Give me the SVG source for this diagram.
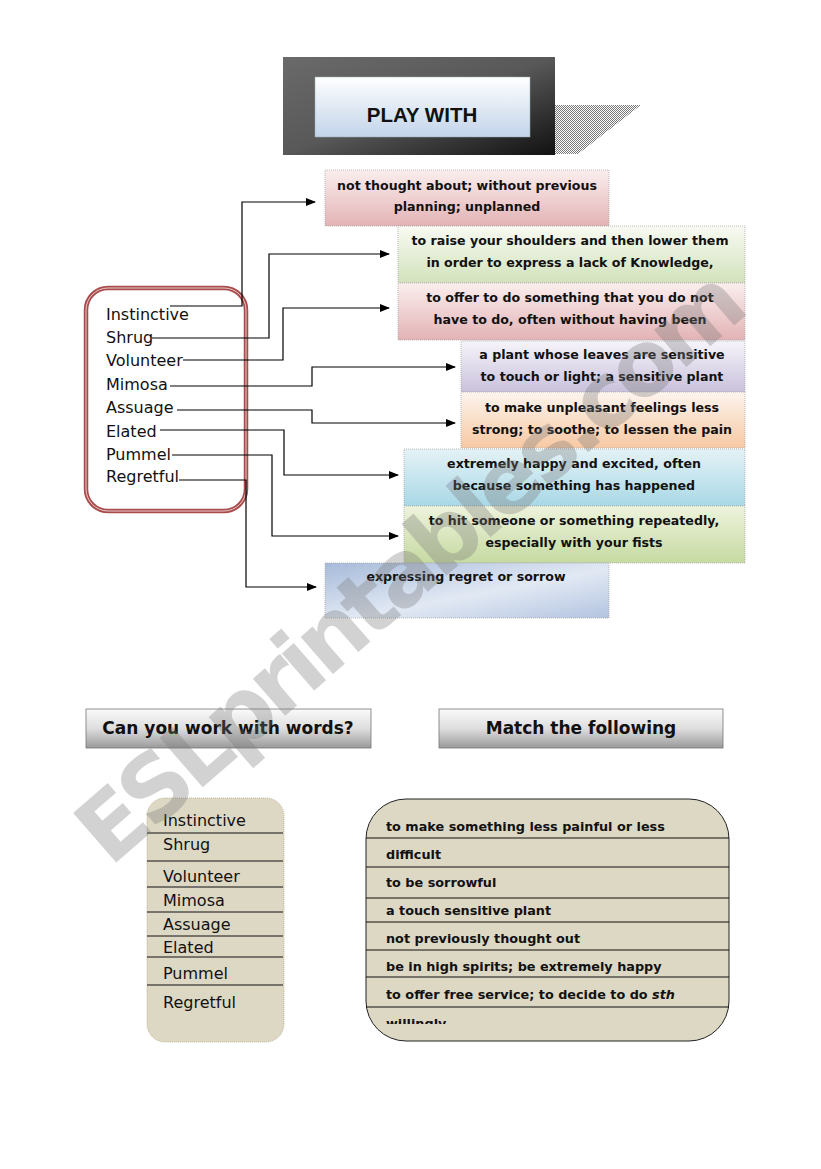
<svg xmlns="http://www.w3.org/2000/svg" width="821" height="1169" viewBox="0 0 821 1169">
<defs>
<style>
.w{font-family:"DejaVu Sans","Liberation Sans",sans-serif;font-size:16px;fill:#111}
.d{font-family:"DejaVu Sans","Liberation Sans",sans-serif;font-size:12.6px;font-weight:bold;fill:#111;text-anchor:middle}
.h{font-family:"DejaVu Sans","Liberation Sans",sans-serif;font-size:17px;font-weight:bold;fill:#111;text-anchor:middle}
.m{font-family:"DejaVu Sans","Liberation Sans",sans-serif;font-size:12.8px;font-weight:bold;fill:#111}
.c{fill:none;stroke:#000;stroke-width:1.2}
.bx{stroke:#aaa;stroke-width:0.8;stroke-dasharray:1 1}
.sep{stroke:#111;stroke-width:1}
</style>
<marker id="ah" markerWidth="10" markerHeight="8" refX="9" refY="4" orient="auto" markerUnits="userSpaceOnUse">
<path d="M0,0 L10,4 L0,8 z" fill="#000"/>
</marker>
<pattern id="hatch" width="2" height="2" patternUnits="userSpaceOnUse">
<rect width="2" height="2" fill="#fff"/>
<rect width="1" height="1" fill="#777"/>
<rect x="1" y="1" width="1" height="1" fill="#777"/>
</pattern>
<linearGradient id="gTitle" x1="0" y1="0" x2="1" y2="1">
<stop offset="0" stop-color="#6a6a6a"/>
<stop offset="0.5" stop-color="#585858"/>
<stop offset="1" stop-color="#111"/>
</linearGradient>
<linearGradient id="gInner" x1="0" y1="0" x2="0" y2="1">
<stop offset="0" stop-color="#ffffff"/>
<stop offset="1" stop-color="#c2d4ea"/>
</linearGradient>
<linearGradient id="gPink" x1="0" y1="0" x2="0" y2="1">
<stop offset="0" stop-color="#fbeeee"/>
<stop offset="1" stop-color="#e3b3b5"/>
</linearGradient>
<linearGradient id="gGreen" x1="0" y1="0" x2="0" y2="1">
<stop offset="0" stop-color="#f8faf2"/>
<stop offset="1" stop-color="#d2e2bc"/>
</linearGradient>
<linearGradient id="gPurple" x1="0" y1="0" x2="0" y2="1">
<stop offset="0" stop-color="#f6f4fa"/>
<stop offset="1" stop-color="#c9c1dc"/>
</linearGradient>
<linearGradient id="gPeach" x1="0" y1="0" x2="0" y2="1">
<stop offset="0" stop-color="#fdf4ee"/>
<stop offset="1" stop-color="#f7c9a3"/>
</linearGradient>
<linearGradient id="gBlue" x1="0" y1="0" x2="0" y2="1">
<stop offset="0" stop-color="#e4f2f6"/>
<stop offset="1" stop-color="#a9d8e6"/>
</linearGradient>
<linearGradient id="gGreen2" x1="0" y1="0" x2="0" y2="1">
<stop offset="0" stop-color="#eef3dc"/>
<stop offset="1" stop-color="#c6daa2"/>
</linearGradient>
<linearGradient id="gSteel" x1="0" y1="0" x2="1" y2="1">
<stop offset="0" stop-color="#a6bad9"/>
<stop offset="0.55" stop-color="#e2e9f4"/>
<stop offset="1" stop-color="#b3c4e0"/>
</linearGradient>
<linearGradient id="gHead" x1="0" y1="0" x2="0" y2="1">
<stop offset="0" stop-color="#fafafa"/>
<stop offset="0.5" stop-color="#dedede"/>
<stop offset="1" stop-color="#9a9a9a"/>
</linearGradient>
<clipPath id="clipR"><rect x="366" y="799" width="364" height="225"/></clipPath>
</defs>

<g id="title">
<polygon points="555,105 641,105 578,154 555,154" fill="url(#hatch)"/>
<rect x="283" y="57" width="272" height="98" fill="url(#gTitle)"/>
<rect x="315" y="77" width="215" height="60" fill="url(#gInner)" stroke="#9aa" stroke-width="0.5"/>
<text x="422" y="122" font-family="Liberation Sans, Arial, sans-serif" font-size="20.5" font-weight="bold" text-anchor="middle" fill="#111">PLAY WITH</text>
</g>

<g id="wordlist">
<rect x="86" y="288" width="160" height="223" rx="22" fill="none" stroke="#a84c4c" stroke-width="4.5"/>
<rect x="86" y="288" width="160" height="223" rx="22" fill="none" stroke="#e8c8c8" stroke-width="1"/>
<text class="w" x="106" y="320">Instinctive</text>
<text class="w" x="106" y="343">Shrug</text>
<text class="w" x="106" y="366">Volunteer</text>
<text class="w" x="106" y="390">Mimosa</text>
<text class="w" x="106" y="413">Assuage</text>
<text class="w" x="106" y="437">Elated</text>
<text class="w" x="106" y="460">Pummel</text>
<text class="w" x="106" y="482">Regretful</text>
</g>

<g id="def1">
<rect class="bx" x="325" y="170" width="284" height="56" fill="url(#gPink)"/>
<text class="d" x="467" y="190">not thought about; without previous</text>
<text class="d" x="467" y="211">planning; unplanned</text>
</g>
<g id="def2">
<rect class="bx" x="398" y="226" width="347" height="57" fill="url(#gGreen)"/>
<text class="d" x="570" y="245">to raise your shoulders and then lower them</text>
<text class="d" x="570" y="267">in order to express a lack of Knowledge,</text>
</g>
<g id="def3">
<rect class="bx" x="398" y="283" width="347" height="57" fill="url(#gPink)"/>
<text class="d" x="570" y="302">to offer to do something that you do not</text>
<text class="d" x="570" y="324">have to do, often without having been</text>
</g>
<g id="def4">
<rect class="bx" x="461" y="341" width="284" height="51" fill="url(#gPurple)"/>
<text class="d" x="602" y="359">a plant whose leaves are sensitive</text>
<text class="d" x="602" y="381">to touch or light; a sensitive plant</text>
</g>
<g id="def5">
<rect class="bx" x="461" y="392" width="284" height="56" fill="url(#gPeach)"/>
<text class="d" x="602" y="412">to make unpleasant feelings less</text>
<text class="d" x="602" y="434">strong; to soothe; to lessen the pain</text>
</g>
<g id="def6">
<rect class="bx" x="404" y="449" width="341" height="57" fill="url(#gBlue)"/>
<text class="d" x="574" y="468">extremely happy and excited, often</text>
<text class="d" x="574" y="490">because something has happened</text>
</g>
<g id="def7">
<rect class="bx" x="404" y="506" width="341" height="57" fill="url(#gGreen2)"/>
<text class="d" x="574" y="525">to hit someone or something repeatedly,</text>
<text class="d" x="574" y="547">especially with your fists</text>
</g>
<g id="def8">
<rect class="bx" x="325" y="563" width="284" height="55" fill="url(#gSteel)"/>
<text class="d" x="466" y="581">expressing regret or sorrow</text>
</g>

<g id="connectors">
<polyline class="c" points="170,306 242,306 242,202 315,202" marker-end="url(#ah)"/>
<polyline class="c" points="152,338 269,338 269,254 389,254" marker-end="url(#ah)" stroke-width="1.8"/>
<polyline class="c" points="183,360 283,360 283,308 389,308" marker-end="url(#ah)"/>
<polyline class="c" points="170,386 312,386 312,367 455,367" marker-end="url(#ah)"/>
<polyline class="c" points="177,410 312,410 312,423 455,423" marker-end="url(#ah)"/>
<polyline class="c" points="160,430 284,430 284,475 398,475" marker-end="url(#ah)"/>
<polyline class="c" points="172,455 272,455 272,536 398,536" marker-end="url(#ah)"/>
<polyline class="c" points="179,480 246,480 246,587 316,587" marker-end="url(#ah)"/>
</g>

<g id="head1">
<rect x="86" y="709" width="285" height="39" fill="url(#gHead)" stroke="#777" stroke-width="0.8"/>
<text class="h" x="228" y="734">Can you work with words?</text>
</g>
<g id="head2">
<rect x="439" y="709" width="284" height="39" fill="url(#gHead)" stroke="#777" stroke-width="0.8"/>
<text class="h" x="581" y="734">Match the following</text>
</g>

<g id="wordbox">
<rect x="147" y="798" width="137" height="244" rx="18" fill="#ddd8c4" stroke="#b8a888" stroke-width="0.8" stroke-dasharray="1 1"/>
<line class="sep" x1="147" y1="833" x2="283" y2="833"/>
<line class="sep" x1="147" y1="861" x2="283" y2="861"/>
<line class="sep" x1="147" y1="887" x2="283" y2="887"/>
<line class="sep" x1="147" y1="912" x2="283" y2="912"/>
<line class="sep" x1="147" y1="936" x2="283" y2="936"/>
<line class="sep" x1="147" y1="957" x2="283" y2="957"/>
<line class="sep" x1="147" y1="985" x2="283" y2="985"/>
<text class="w" x="163" y="826">Instinctive</text>
<text class="w" x="163" y="850">Shrug</text>
<text class="w" x="163" y="882">Volunteer</text>
<text class="w" x="163" y="906">Mimosa</text>
<text class="w" x="163" y="930">Assuage</text>
<text class="w" x="163" y="953">Elated</text>
<text class="w" x="163" y="979">Pummel</text>
<text class="w" x="163" y="1008">Regretful</text>
</g>

<g id="matchbox">
<rect x="366" y="799" width="363" height="242" rx="40" fill="#ddd8c4" stroke="#222" stroke-width="1"/>
<line class="sep" x1="366" y1="838" x2="729" y2="838"/>
<line class="sep" x1="366" y1="867" x2="729" y2="867"/>
<line class="sep" x1="366" y1="898" x2="729" y2="898"/>
<line class="sep" x1="366" y1="922" x2="729" y2="922"/>
<line class="sep" x1="366" y1="950" x2="729" y2="950"/>
<line class="sep" x1="366" y1="977" x2="729" y2="977"/>
<line class="sep" x1="366" y1="1007" x2="729" y2="1007"/>
<text class="m" x="386" y="831">to make something less painful or less</text>
<text class="m" x="386" y="859">difficult</text>
<text class="m" x="386" y="887">to be sorrowful</text>
<text class="m" x="386" y="915">a touch sensitive plant</text>
<text class="m" x="386" y="943">not previously thought out</text>
<text class="m" x="386" y="971">be in high spirits; be extremely happy</text>
<text class="m" x="386" y="999">to offer free service; to decide to do <tspan font-style="italic">sth</tspan></text>
<g clip-path="url(#clipR)"><text class="m" x="386" y="1028">willingly</text></g>
</g>

<g id="watermark" opacity="0.32">
<text x="0" y="0" transform="translate(110,868) rotate(-41)" font-family="DejaVu Sans, Liberation Sans, sans-serif" font-size="90" font-weight="bold" fill="#777" textLength="850">ESLprintables.com</text>
</g>
</svg>
